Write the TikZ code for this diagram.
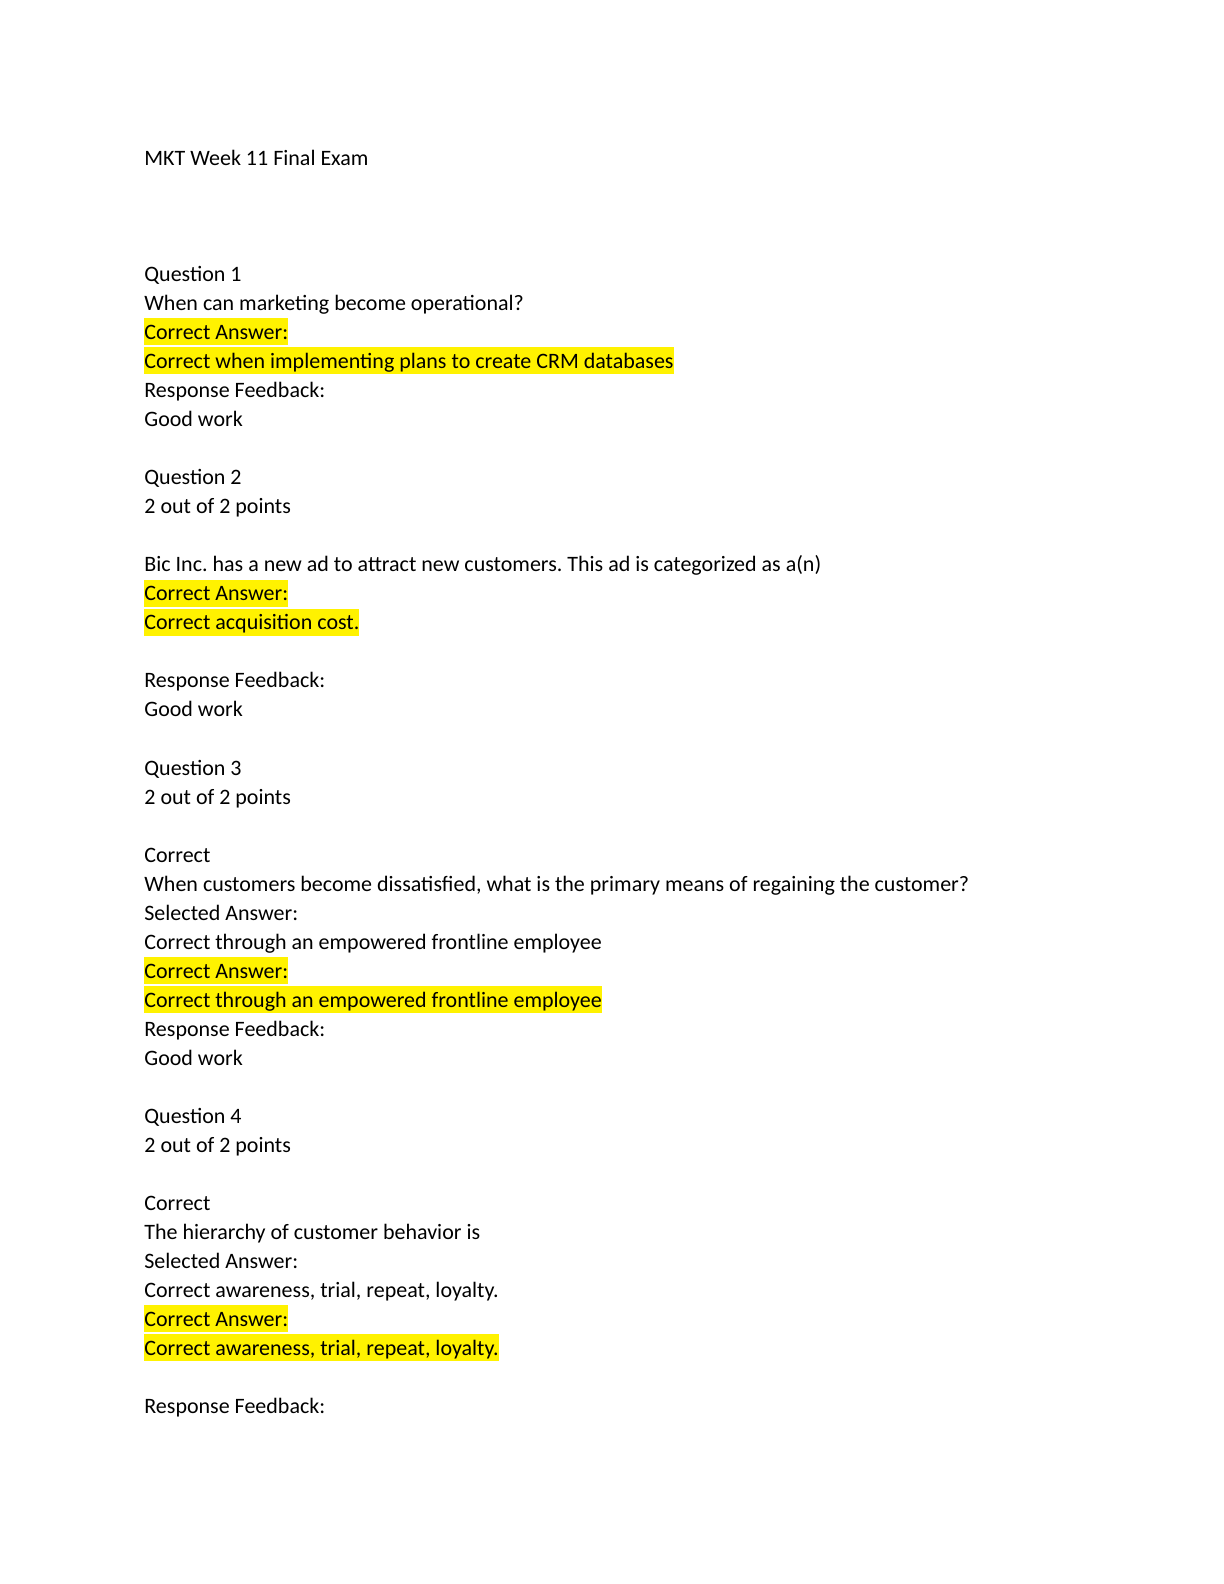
\documentclass[tikz,border=0pt]{standalone}
\usepackage{fontspec}
\setmainfont{Carlito}
\frenchspacing
\tikzset{
  txt/.style={anchor=base west, inner sep=0pt, font=\fontsize{11}{13}\selectfont},
  hl/.style={txt, fill=yellow, text height=10.7pt, text depth=2.8pt}
}
\newcommand{\ly}[1]{-82.8pt-14.51pt*#1}
\begin{document}
\begin{tikzpicture}[x=1pt,y=1pt]
\useasboundingbox (0,0) rectangle (612,-792);
\node[txt] (t0) at (72,{\ly{0}}) {MKT Week 11 Final Exam};
\node[txt] (t4) at (72,{\ly{4}}) {Question 1};
\node[txt] (t5) at (72,{\ly{5}}) {When can marketing become operational?};
\node[hl] (t6) at (72,{\ly{6}}) {Correct Answer:};
\node[hl] (t7) at (72,{\ly{7}}) {Correct when implementing plans to create CRM databases};
\node[txt] (t8) at (72,{\ly{8}}) {Response Feedback:};
\node[txt] (t9) at (72,{\ly{9}}) {Good work};
\node[txt] (t11) at (72,{\ly{11}}) {Question 2};
\node[txt] (t12) at (72,{\ly{12}}) {2 out of 2 points};
\node[txt] (t14) at (72,{\ly{14}}) {Bic Inc. has a new ad to attract new customers. This ad is categorized as a(n)};
\node[hl] (t15) at (72,{\ly{15}}) {Correct Answer:};
\node[hl] (t16) at (72,{\ly{16}}) {Correct acquisition cost.};
\node[txt] (t18) at (72,{\ly{18}}) {Response Feedback:};
\node[txt] (t19) at (72,{\ly{19}}) {Good work};
\node[txt] (t21) at (72,{\ly{21}}) {Question 3};
\node[txt] (t22) at (72,{\ly{22}}) {2 out of 2 points};
\node[txt] (t24) at (72,{\ly{24}}) {Correct};
\node[txt] (t25) at (72,{\ly{25}}) {When customers become dissatisfied, what is the primary means of regaining the customer?};
\node[txt] (t26) at (72,{\ly{26}}) {Selected Answer:};
\node[txt] (t27) at (72,{\ly{27}}) {Correct through an empowered frontline employee};
\node[hl] (t28) at (72,{\ly{28}}) {Correct Answer:};
\node[hl] (t29) at (72,{\ly{29}}) {Correct through an empowered frontline employee};
\node[txt] (t30) at (72,{\ly{30}}) {Response Feedback:};
\node[txt] (t31) at (72,{\ly{31}}) {Good work};
\node[txt] (t33) at (72,{\ly{33}}) {Question 4};
\node[txt] (t34) at (72,{\ly{34}}) {2 out of 2 points};
\node[txt] (t36) at (72,{\ly{36}}) {Correct};
\node[txt] (t37) at (72,{\ly{37}}) {The hierarchy of customer behavior is};
\node[txt] (t38) at (72,{\ly{38}}) {Selected Answer:};
\node[txt] (t39) at (72,{\ly{39}}) {Correct awareness, trial, repeat, loyalty.};
\node[hl] (t40) at (72,{\ly{40}}) {Correct Answer:};
\node[hl] (t41) at (72,{\ly{41}}) {Correct awareness, trial, repeat, loyalty.};
\node[txt] (t43) at (72,{\ly{43}}) {Response Feedback:};
\end{tikzpicture}
\end{document}
